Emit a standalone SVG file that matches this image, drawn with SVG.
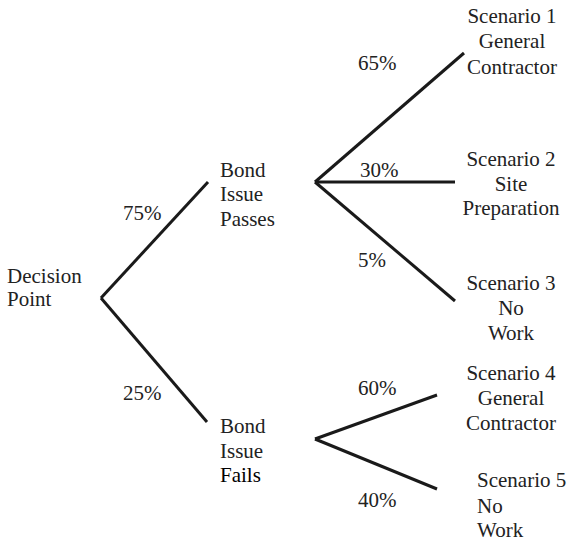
<svg xmlns="http://www.w3.org/2000/svg" width="567" height="543" viewBox="0 0 567 543">
<style>
.e line{stroke:#1a1a1a;stroke-width:3;stroke-linecap:butt}
</style>
<rect width="567" height="543" fill="#fff"/>
<g id="connectors" class="e">
<line x1="101" y1="298" x2="208" y2="182"/>
<line x1="101" y1="298" x2="207" y2="422"/>
<line x1="315" y1="182" x2="464" y2="53"/>
<line x1="315" y1="182" x2="455" y2="182"/>
<line x1="315" y1="182" x2="455" y2="301"/>
<line x1="315" y1="439" x2="437" y2="395"/>
<line x1="315" y1="439" x2="437" y2="489"/>
</g>
<g font-family="Liberation Serif, DejaVu Serif, serif" font-size="21" fill="#222">
<g id="labels">
<text x="123" y="220">75%</text>
<text x="123" y="400">25%</text>
<text x="358" y="70">65%</text>
<text x="360" y="177">30%</text>
<text x="358" y="267">5%</text>
<text x="358" y="395">60%</text>
<text x="358" y="507">40%</text>
</g>
<g id="decision"><text x="7" y="283">Decision</text><text x="7" y="306">Point</text></g>
<g id="passes"><text x="220" y="177">Bond</text><text x="220" y="201">Issue</text><text x="220" y="226">Passes</text></g>
<g id="fails"><text x="220" y="433">Bond</text><text x="220" y="458">Issue</text><text x="220" y="482" fill="#000">Fails</text></g>
<g id="s1" text-anchor="middle"><text x="512" y="23">Scenario 1</text><text x="512" y="48">General</text><text x="512" y="74">Contractor</text></g>
<g id="s2" text-anchor="middle"><text x="511" y="166">Scenario 2</text><text x="511" y="191">Site</text><text x="511" y="215">Preparation</text></g>
<g id="s3" text-anchor="middle"><text x="511" y="290">Scenario 3</text><text x="511" y="315">No</text><text x="511" y="340">Work</text></g>
<g id="s4" text-anchor="middle"><text x="511" y="380">Scenario 4</text><text x="511" y="405">General</text><text x="511" y="430">Contractor</text></g>
<g id="s5"><text x="477" y="487">Scenario 5</text><text x="477" y="513">No</text><text x="477" y="537">Work</text></g>
</g>
</svg>
